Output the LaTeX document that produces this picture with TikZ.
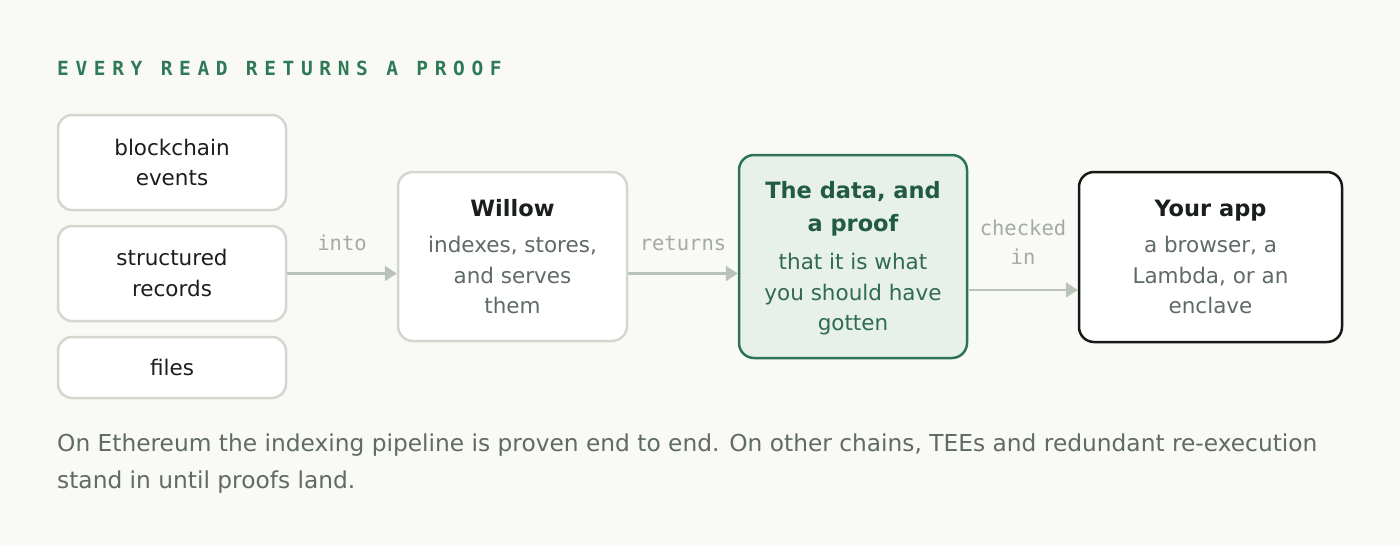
\documentclass[tikz,border=0pt]{standalone}
\usepackage{fontspec}
\setmainfont{DejaVu Sans}
\newfontfamily\monof{DejaVu Sans Mono}
\usetikzlibrary{arrows.meta}
\definecolor{bgc}{HTML}{F9F9F5}
\definecolor{lightb}{HTML}{D3D7D0}
\definecolor{arrc}{HTML}{B9C3B9}
\definecolor{greenb}{HTML}{2D7356}
\definecolor{greenf}{HTML}{E8F0EB}
\definecolor{greent}{HTML}{225C40}
\definecolor{greens}{HTML}{2F6B4D}
\definecolor{darkb}{HTML}{151A17}
\definecolor{subc}{HTML}{5F6B63}
\definecolor{titc}{HTML}{2E7A58}
\definecolor{labc}{HTML}{A3ABA3}
\definecolor{inkc}{HTML}{1A1F1C}
\begin{document}
\begin{tikzpicture}[x=1pt,y=-1pt,
  srcbox/.style={draw=lightb, line width=2.5pt, fill=white, rounded corners=14pt, inner sep=0pt, minimum width=228pt},
  wbox/.style={draw=lightb, line width=2.5pt, fill=white, rounded corners=15pt, inner sep=0pt},
  gbox/.style={draw=greenb, line width=2.5pt, fill=greenf, rounded corners=15pt, inner sep=0pt},
  abox/.style={draw=darkb, line width=2.5pt, fill=white, rounded corners=15pt, inner sep=0pt},
  body/.style={anchor=base, inner sep=0pt, text=inkc, font=\fontsize{21.5}{26}\selectfont},
  sub/.style={anchor=base, inner sep=0pt, text=subc, font=\fontsize{21.5}{26}\selectfont},
  ttl/.style={anchor=base, inner sep=0pt, text=inkc, font=\fontsize{22.5}{27}\selectfont\bfseries},
  gttl/.style={anchor=base, inner sep=0pt, text=greent, font=\fontsize{22.5}{27}\selectfont\bfseries},
  gsub/.style={anchor=base, inner sep=0pt, text=greens, font=\fontsize{21.5}{26}\selectfont},
  lab/.style={anchor=base, inner sep=0pt, text=labc, font=\monof\fontsize{20.5}{24}\selectfont},
  arr/.style={draw=arrc, line width=2.5pt, -{Triangle[length=12pt,width=15pt]}},
  foot/.style={anchor=base west, inner sep=0pt, text=subc, font=\fontsize{23.3}{28}\selectfont}
]
\fill[bgc] (0,0) rectangle (1400,546);
\useasboundingbox (0,0) rectangle (1400,546);

\node[anchor=base west, inner sep=0pt, text=titc, font={\monof\bfseries\fontsize{19.5}{22}\selectfont\addfontfeature{LetterSpace=34}}] (title) at (57,75) {EVERY READ RETURNS A PROOF};

% boxes
\node[srcbox, minimum height=95pt] (bc) at (172,162.5) {};
\node[srcbox, minimum height=95pt] (sr) at (172,273.5) {};
\node[srcbox, minimum height=61pt] (fi) at (172,367.5) {};
\node[wbox, minimum width=229pt, minimum height=169pt] (wi) at (512.5,256.5) {};
\node[gbox, minimum width=228pt, minimum height=203pt] (pr) at (853,256.5) {};
\node[abox, minimum width=263pt, minimum height=170pt] (app) at (1210.5,257) {};

% source texts
\node[body] (bc1) at (172,155) {blockchain};
\node[body] (bc2) at (172,185.5) {events};
\node[body] (sr1) at (172,265.5) {structured};
\node[body] (sr2) at (172,296) {records};
\node[body] (fi1) at (172,375.5) {files};

% willow
\node[ttl] (wi0) at (512.5,216) {Willow};
\node[sub] (wi1) at (512.5,252.5) {indexes, stores,};
\node[sub] (wi2) at (512.5,283) {and serves};
\node[sub] (wi3) at (512.5,313.5) {them};

% proof
\node[gttl] (pr0) at (853,198.5) {The data, and};
\node[gttl] (pr1) at (853,231) {a proof};
\node[gsub] (pr2) at (853,269) {that it is what};
\node[gsub] (pr3) at (853,300) {you should have};
\node[gsub] (pr4) at (853,330.5) {gotten};

% app
\node[ttl] (ap0) at (1210.5,216) {Your app};
\node[sub] (ap1) at (1210.5,252.5) {a browser, a};
\node[sub] (ap2) at (1210.5,283) {Lambda, or an};
\node[sub] (ap3) at (1210.5,313.5) {enclave};

% arrows
\coordinate (yc) at (0,290);
\draw[arr] (sr.east) -- (wi.west |- sr.east);
\draw[arr] (wi.east |- sr.east) -- (pr.west |- sr.east);
\draw[arr] (pr.east |- yc) -- (app.west |- yc);

\node[lab] (l1) at (342,250) {into};
\node[lab] (l2) at (683,250) {returns};
\node[lab] (l3) at (1023,235.5) {checked};
\node[lab] (l4) at (1023,264) {in};

% footer
\node[foot] (f1) at (57,451.5) {On Ethereum the indexing pipeline is proven end to end. On other chains, TEEs and redundant re-execution};
\node[foot] (f2) at (57,488) {stand in until proofs land.};
\end{tikzpicture}
\end{document}
